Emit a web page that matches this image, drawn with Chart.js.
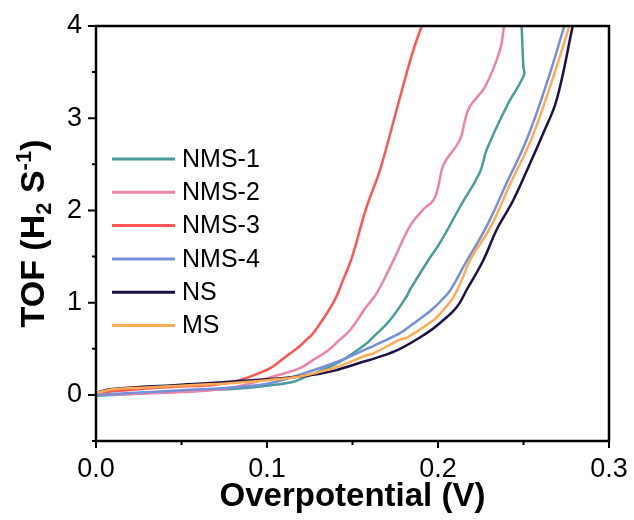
<!DOCTYPE html>
<html>
<head>
<meta charset="utf-8">
<title>TOF vs overpotential</title>
<script src="https://cdn.jsdelivr.net/npm/chart.js@4.4.1/dist/chart.umd.min.js"></script>
<style>
  html, body { margin: 0; padding: 0; background: #fff; }
  #wrap { width: 634px; height: 520px; }
</style>
</head>
<body>
<div id="wrap"><canvas id="tofChart" width="634" height="520"></canvas></div>
<script>
// --- values: overpotential (V) / TOF (H2 s-1) ---
const nms1X = [0, 0.02, 0.04, 0.061, 0.084, 0.1, 0.115, 0.1232, 0.13, 0.1427, 0.1583, 0.1622, 0.1719, 0.1817, 0.1836, 0.1943, 0.2012, 0.2129, 0.2246, 0.2285, 0.2402, 0.2503, 0.2499, 0.2489];
const nms1Y = [-0.01, 0.01, 0.03, 0.05, 0.07, 0.10, 0.14, 0.20, 0.25, 0.36, 0.56, 0.63, 0.81, 1.07, 1.14, 1.46, 1.65, 2.04, 2.42, 2.66, 3.13, 3.47, 3.56, 4.0];

const nms2X = [0, 0.02, 0.05, 0.08, 0.1037, 0.1193, 0.1271, 0.1349, 0.1427, 0.1485, 0.1583, 0.1641, 0.1745, 0.1836, 0.1914, 0.1973, 0.2002, 0.2031, 0.2129, 0.2158, 0.2187, 0.2275, 0.2363, 0.2386];
const nms2Y = [0.0, 0.01, 0.03, 0.08, 0.20, 0.29, 0.38, 0.47, 0.60, 0.70, 0.96, 1.10, 1.48, 1.83, 2.01, 2.11, 2.26, 2.49, 2.77, 2.98, 3.13, 3.34, 3.74, 4.0];

const nms3X = [0, 0.01, 0.03, 0.05, 0.07, 0.084, 0.0998, 0.1037, 0.11, 0.1193, 0.1232, 0.1271, 0.1388, 0.1446, 0.1495, 0.1583, 0.1661, 0.1787, 0.1856, 0.1905];
const nms3Y = [0.02, 0.04, 0.07, 0.09, 0.11, 0.16, 0.27, 0.31, 0.40, 0.53, 0.60, 0.67, 1.00, 1.25, 1.48, 2.04, 2.44, 3.29, 3.74, 4.0];

const nms4X = [0, 0.02, 0.05, 0.08, 0.1, 0.1193, 0.1427, 0.1583, 0.1622, 0.1778, 0.1817, 0.1934, 0.1973, 0.2012, 0.2070, 0.2158, 0.2285, 0.2402, 0.2519, 0.2636, 0.2739];
const nms4Y = [0.0, 0.02, 0.05, 0.08, 0.12, 0.22, 0.37, 0.50, 0.53, 0.67, 0.72, 0.88, 0.94, 1.01, 1.13, 1.42, 1.83, 2.30, 2.77, 3.38, 4.0];

const nsX = [0, 0.008, 0.03, 0.06, 0.084, 0.1, 0.1193, 0.131, 0.1388, 0.1583, 0.1622, 0.1778, 0.1934, 0.2012, 0.2109, 0.2168, 0.2265, 0.2343, 0.2440, 0.2538, 0.2616, 0.2694, 0.2788];
const nsY = [0.02, 0.06, 0.09, 0.12, 0.15, 0.17, 0.20, 0.23, 0.26, 0.37, 0.39, 0.50, 0.67, 0.78, 0.95, 1.14, 1.46, 1.79, 2.11, 2.51, 2.84, 3.20, 4.0];

const msX = [0, 0.01, 0.03, 0.05, 0.08, 0.1, 0.1193, 0.1388, 0.1583, 0.1622, 0.1778, 0.1817, 0.1973, 0.2012, 0.2090, 0.2140, 0.2187, 0.2310, 0.2425, 0.2545, 0.2662, 0.2768];
const msY = [0.02, 0.06, 0.08, 0.10, 0.13, 0.16, 0.20, 0.29, 0.43, 0.45, 0.60, 0.62, 0.81, 0.88, 1.06, 1.25, 1.46, 1.83, 2.30, 2.77, 3.38, 4.0];

const seriesNames = ['NMS-1', 'NMS-2', 'NMS-3', 'NMS-4', 'NS', 'MS'];
const seriesColors = ['#4A9C9C', '#EE83A9', '#FF5454', '#7490D6', '#1D0F45', '#FFAA55'];
const seriesX = [nms1X, nms2X, nms3X, nms4X, nsX, msX];
const seriesY = [nms1Y, nms2Y, nms3Y, nms4Y, nsY, msY];

const xTicks = [0, 0.1, 0.2, 0.3];
const xMinor = [0.05, 0.15, 0.25];
const yTicks = [0, 1, 2, 3, 4];
const yMinor = [-0.5, 0.5, 1.5, 2.5, 3.5];

const FONT = 'Liberation Sans, Arial, sans-serif';

// frame, tick marks, legend and the y title (it needs sub/superscripts)
const decorPlugin = {
    id: 'decor',
    afterDatasetsDraw(chart) {
        const { ctx, chartArea: a, scales: { x, y } } = chart;
        ctx.save();
        ctx.strokeStyle = '#000';
        ctx.lineWidth = 2.5;
        ctx.strokeRect(a.left, a.top, a.right - a.left, a.bottom - a.top);

        ctx.lineWidth = 2;
        ctx.beginPath();
        xTicks.forEach(v => { const p = x.getPixelForValue(v); ctx.moveTo(p, a.bottom); ctx.lineTo(p, a.bottom + 7); });
        xMinor.forEach(v => { const p = x.getPixelForValue(v); ctx.moveTo(p, a.bottom); ctx.lineTo(p, a.bottom + 4); });
        yTicks.forEach(v => { const p = y.getPixelForValue(v); ctx.moveTo(a.left, p); ctx.lineTo(a.left - 8, p); });
        yMinor.forEach(v => { const p = y.getPixelForValue(v); ctx.moveTo(a.left, p); ctx.lineTo(a.left - 4, p); });
        ctx.stroke();

        // legend
        ctx.font = '25px ' + FONT;
        ctx.textBaseline = 'middle';
        ctx.fillStyle = '#000';
        chart.data.datasets.forEach((ds, i) => {
            const ly = 159 + i * 33.3;
            ctx.strokeStyle = ds.borderColor;
            ctx.lineWidth = 3;
            ctx.beginPath();
            ctx.moveTo(112, ly); ctx.lineTo(175, ly);
            ctx.stroke();
            ctx.fillText(ds.label, 182, ly + 1);
        });

        // y title: TOF (H2 S-1)
        const parts = [
            { t: 'TOF (H', s: 34, dy: 0 },
            { t: '2', s: 22, dy: 7 },
            { t: ' S', s: 34, dy: 0 },
            { t: '-1', s: 22, dy: -13 },
            { t: ')', s: 34, dy: 0 }
        ];
        let total = 0;
        parts.forEach(p => { ctx.font = 'bold ' + p.s + 'px ' + FONT; p.w = ctx.measureText(p.t).width; total += p.w; });
        ctx.translate(32, (a.top + a.bottom) / 2);
        ctx.rotate(-Math.PI / 2);
        ctx.textBaseline = 'alphabetic';
        let cx = -total / 2;
        parts.forEach(p => {
            ctx.font = 'bold ' + p.s + 'px ' + FONT;
            ctx.fillText(p.t, cx, 12 + p.dy);
            cx += p.w;
        });
        ctx.restore();
    }
};

const datasets = seriesNames.map((name, i) => ({
    label: name,
    data: seriesX[i].map((vx, j) => ({ x: vx, y: seriesY[i][j] })),
    borderColor: seriesColors[i],
    borderWidth: 2.5,
    pointRadius: 0,
    fill: false,
    tension: 0.4,
    order: 6 - i
}));

new Chart(document.getElementById('tofChart').getContext('2d'), {
    type: 'line',
    data: { datasets },
    options: {
        responsive: false,
        animation: false,
        devicePixelRatio: 1,
        layout: { padding: { top: 26, right: 25, left: 0, bottom: 0 } },
        plugins: { legend: { display: false }, tooltip: { enabled: false } },
        scales: {
            x: {
                type: 'linear', min: 0, max: 0.3,
                grid: { display: false },
                border: { display: false },
                afterBuildTicks: s => { s.ticks = xTicks.map(v => ({ value: v })); },
                afterFit: s => { s.height = 79; },
                ticks: { color: '#000', padding: 4, maxRotation: 0, font: { family: FONT, size: 27 }, callback: v => v.toFixed(1) },
                title: { display: true, text: 'Overpotential (V)', color: '#000', padding: { top: 0, bottom: 3 }, font: { family: FONT, size: 33, weight: 'bold' } }
            },
            y: {
                type: 'linear', min: -0.5, max: 4,
                grid: { display: false },
                border: { display: false },
                afterBuildTicks: s => { s.ticks = yTicks.map(v => ({ value: v })); },
                afterFit: s => { s.width = 96; },
                ticks: { color: '#000', padding: 6, font: { family: FONT, size: 27 }, callback: v => String(v) }
            }
        }
    },
    plugins: [decorPlugin]
});
</script>
</body>
</html>
